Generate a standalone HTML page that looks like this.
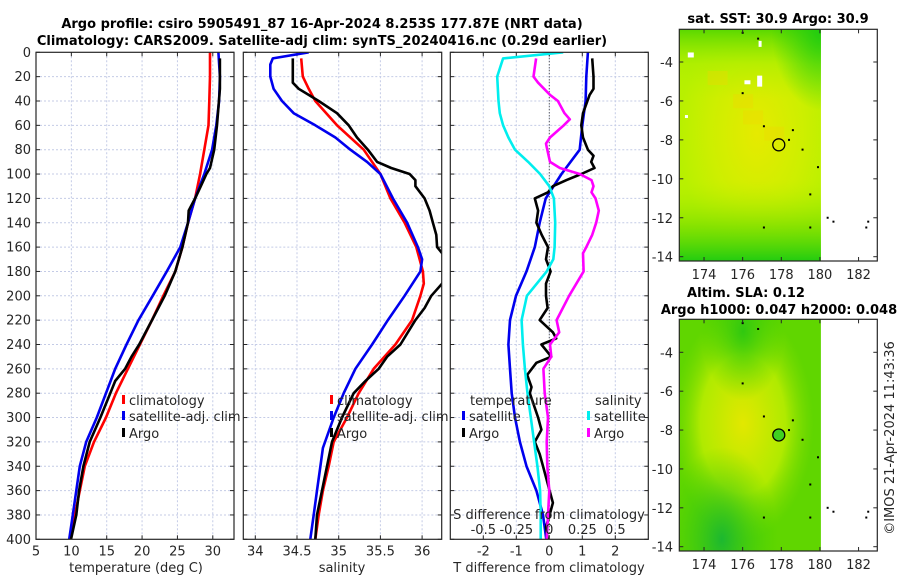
<!DOCTYPE html>
<html><head><meta charset="utf-8"><style>
html,body{margin:0;padding:0;background:#fff;}
svg{display:block;font-family:"DejaVu Sans","Liberation Sans",sans-serif;}
.t{font-size:13px;fill:#262626;}
.b{font-size:13px;font-weight:bold;fill:#000;}
</style></head><body>
<svg id="fig" width="900" height="580" viewBox="0 0 900 580" xmlns="http://www.w3.org/2000/svg">
<defs>
<radialGradient id="sstY" cx="0.55" cy="0.45" r="0.55"><stop offset="0" stop-color="#e6ea00"/><stop offset="0.6" stop-color="#cdef00"/><stop offset="1" stop-color="#cdef00" stop-opacity="0"/></radialGradient>
<linearGradient id="sstTop" x1="0" y1="0" x2="0" y2="1"><stop offset="0" stop-color="#5ad800"/><stop offset="0.15" stop-color="#a8ee00" stop-opacity="0.6"/><stop offset="0.3" stop-color="#b8f000" stop-opacity="0"/></linearGradient>
<linearGradient id="sstBot" x1="0" y1="1" x2="0" y2="0"><stop offset="0" stop-color="#22cc10"/><stop offset="0.15" stop-color="#70dd00" stop-opacity="0.7"/><stop offset="0.35" stop-color="#b8f000" stop-opacity="0"/></linearGradient>
<radialGradient id="sstTR" cx="1" cy="0" r="0.35"><stop offset="0" stop-color="#20cc10"/><stop offset="1" stop-color="#20cc10" stop-opacity="0"/></radialGradient>
<radialGradient id="slaY" cx="0.45" cy="0.45" r="0.5"><stop offset="0" stop-color="#e2e800"/><stop offset="0.6" stop-color="#b0ea00"/><stop offset="1" stop-color="#80dd00" stop-opacity="0"/></radialGradient>
<radialGradient id="slaG" cx="0.3" cy="0.95" r="0.4"><stop offset="0" stop-color="#1cb830"/><stop offset="1" stop-color="#40d000" stop-opacity="0"/></radialGradient>
<radialGradient id="slaG2" cx="0.45" cy="0.05" r="0.3"><stop offset="0" stop-color="#30c810"/><stop offset="1" stop-color="#40d000" stop-opacity="0"/></radialGradient>
</defs>
<g id="root"></g>
</svg>
<script>
// ---------- data ----------
const tDepth = [0,20,40,60,80,100,120,140,160,180,200,220,240,260,280,300,320,340,360,380,400];
const tClim  = [29.6,29.6,29.5,29.4,28.8,28.2,27.5,26.5,25.7,24.7,23.0,21.4,19.7,18.0,16.3,14.9,13.2,11.9,11.2,10.5,9.9];
const tSat   = [30.8,31.0,30.9,30.5,29.9,28.8,27.5,26.5,25.4,23.5,21.5,19.5,17.8,16.2,14.9,13.6,12.1,11.2,10.7,10.2,9.7];
const argoDepth = [5,30,60,80,95,100,110,120,130,140,160,180,200,220,240,250,260,270,280,300,320,340,360,380,400];
const tArgo  = [31.0,31.0,30.6,30.2,29.6,29.1,28.3,27.5,26.6,26.5,25.7,24.7,23.2,21.4,19.6,18.5,17.6,16.2,15.5,14.1,12.6,11.7,11.1,10.7,9.95];

const sClimDepth = [5,20,30,40,60,80,100,120,140,160,180,190,200,220,240,260,280,300,320,340,360,380,400];
const sClim = [34.55,34.57,34.64,34.72,34.98,35.30,35.50,35.62,35.79,35.93,36.01,36.02,35.98,35.88,35.68,35.42,35.24,35.10,34.94,34.88,34.81,34.76,34.72];
const sSatDepth = [0,5,10,20,30,40,50,60,70,80,90,100,120,140,160,170,180,200,220,240,260,280,300,325,340,360,380,400];
const sSat = [34.64,34.21,34.18,34.18,34.22,34.32,34.46,34.72,34.96,35.14,35.34,35.50,35.65,35.82,35.95,36.00,35.98,35.79,35.59,35.40,35.20,35.06,34.94,34.81,34.78,34.74,34.70,34.66];
const sArgoDepth = [5,25,30,35,40,50,60,70,80,90,95,100,105,110,120,130,140,150,160,165,172,180,190,200,210,220,240,250,260,270,280,300,320,340,360,380,400];
const sArgo = [34.45,34.45,34.52,34.64,34.76,34.98,35.12,35.22,35.35,35.46,35.63,35.85,35.92,35.92,36.03,36.09,36.13,36.17,36.18,36.24,36.35,36.40,36.24,36.11,36.03,35.92,35.74,35.58,35.48,35.32,35.18,35.04,34.92,34.86,34.80,34.74,34.72];

const dSatTDepth = [0,20,40,60,80,100,120,140,160,180,200,220,240,260,280,300,320,340,360,380,400];
const dSatT = [1.17,1.12,1.10,1.0,0.92,0.37,-0.11,-0.29,-0.44,-0.69,-1.01,-1.19,-1.24,-1.19,-1.14,-1.04,-0.89,-0.69,-0.39,-0.19,-0.09];
const dArgoTDepth = [5,20,30,35,50,60,70,80,85,90,95,100,105,110,115,120,130,140,150,160,170,180,190,200,210,220,230,235,240,250,255,265,275,280,300,310,320,330,340,360,370,380,390,400];
const dArgoT = [1.30,1.34,1.34,1.22,1.02,0.97,1.02,1.17,1.34,1.27,1.37,0.97,0.52,0.11,-0.04,-0.44,-0.34,-0.39,-0.23,-0.04,-0.1,0.04,-0.1,-0.1,-0.05,-0.29,0.11,0.21,-0.24,0.06,-0.39,-0.67,-0.54,-0.59,-0.34,-0.24,-0.44,-0.29,-0.19,0.01,0.11,0.01,-0.1,-0.05];
const dSatSDepth = [0,5,10,20,40,50,60,70,80,90,100,110,120,140,160,170,180,200,220,240,260,280,300,320,340,360,380,400];
const dSatS = [0.105,-0.35,-0.365,-0.395,-0.385,-0.375,-0.35,-0.31,-0.26,-0.16,-0.07,0.0,0.035,0.045,0.04,0.03,-0.02,-0.17,-0.21,-0.20,-0.185,-0.165,-0.14,-0.115,-0.09,-0.07,-0.065,-0.065];
const dArgoSDepth = [5,20,25,35,40,50,55,60,70,75,80,90,95,100,105,110,115,120,130,140,150,160,165,180,200,220,230,240,250,260,280,300,320,340,360,380,400];
const dArgoS = [-0.10,-0.12,-0.085,0.005,0.065,0.115,0.155,0.11,0.005,-0.025,-0.015,0.005,0.08,0.23,0.32,0.335,0.32,0.35,0.375,0.355,0.325,0.28,0.255,0.26,0.15,0.055,0.075,0.005,0.015,-0.045,-0.035,-0.01,-0.02,-0.015,0.0,-0.01,-0.02];

const depthTicks = [0,20,40,60,80,100,120,140,160,180,200,220,240,260,280,300,320,340,360,380,400];
const tTicks = [5,10,15,20,25,30];
const sTicks = [34,34.5,35,35.5,36];
const dTicks = [-2,-1,0,1,2];
const sDiffTicks = [-0.5,-0.25,0,0.25,0.5];
const lonTicks = [174,176,178,180,182];
const latTicks = [-4,-6,-8,-10,-12,-14];
const argoLon = 177.87, argoLat = -8.253;

// ---------- helpers ----------
const NS = "http://www.w3.org/2000/svg";
const root = document.getElementById('root');
function mk(tag, attrs, parent, text){
  const e = document.createElementNS(NS, tag);
  for (const k in attrs) e.setAttribute(k, attrs[k]);
  if (text !== undefined) e.textContent = text;
  (parent||root).appendChild(e);
  return e;
}
const Y0 = 52.3, Y1 = 539.3;
const yD = d => Y0 + d/400*(Y1-Y0);
function lin(d0,d1,r0,r1){ return v => r0 + (v-d0)/(d1-d0)*(r1-r0); }

function panel(name, x0, x1, xs, xTicks, xTickFmt, showY){
  const g = mk('g', {});
  
  
  xTicks.forEach(v => { const x = xs(v); if (x > x0+1 && x < x1-1) mk('line',{x1:x,x2:x,y1:Y0,y2:Y1,stroke:'#c4cbe6','stroke-width':1,'stroke-dasharray':'2,2'},g); });
  depthTicks.forEach(d => { const y = yD(d); if (d>0 && d<400) mk('line',{x1:x0,x2:x1,y1:y,y2:y,stroke:'#c4cbe6','stroke-width':1,'stroke-dasharray':'2,2'},g); });
  xTicks.forEach(v => { const x = xs(v); mk('line',{x1:x,x2:x,y1:Y1,y2:Y1-4,stroke:'#262626'},g); mk('line',{x1:x,x2:x,y1:Y0,y2:Y0+4,stroke:'#262626'},g);
    if (xTickFmt) { const t = mk('text',{x:x,y:Y1+16,'text-anchor':'middle',class:'t'},g,xTickFmt(v));   } });
  depthTicks.forEach(d => { const y = yD(d); mk('line',{x1:x0,x2:x0+4,y1:y,y2:y,stroke:'#262626'},g); mk('line',{x1:x1,x2:x1-4,y1:y,y2:y,stroke:'#262626'},g);
    if (showY) { const t = mk('text',{x:31,y:y+4.5,'text-anchor':'end',class:'t'},g,String(d));   } });
  return g;
}
function frame(g,x0,x1){ mk('rect',{x:x0,y:Y0,width:x1-x0,height:Y1-Y0,fill:'none',stroke:'#262626','stroke-width':1.2},g); }
function line(g, name, xs, depths, vals, color, clipId){
  const pts = depths.map((d,i)=> xs(vals[i]).toFixed(1)+','+yD(d).toFixed(1)).join(' ');
  const p = mk('polyline',{points:pts,fill:'none',stroke:color,'stroke-width':2.6,'stroke-linejoin':'round','clip-path':'url(#'+clipId+')'},g);
  
  
}
function clip(id,x0,x1){ const defs = document.querySelector('defs'); const c = mk('clipPath',{id:id},defs); mk('rect',{x:x0,y:Y0,width:x1-x0,height:Y1-Y0},c); }
function legendRow(g, name, mx, y, color, label){
  const r = mk('g',{},g);
  
  
  mk('rect',{x:mx,y:y-10,width:3,height:9,fill:color},r);
  mk('text',{x:mx+7,y:y,class:'t'},r,label);
}

const tt = mk('text',{x:322,y:28,'text-anchor':'middle',class:'b'},root,'Argo profile: csiro 5905491_87 16-Apr-2024 8.253S 177.87E (NRT data)');
 
const tt2 = mk('text',{x:322,y:45,'text-anchor':'middle',class:'b'},root,'Climatology: CARS2009. Satellite-adj clim: synTS_20240416.nc (0.29d earlier)');
 

{ const x0=36,x1=234, xs=lin(5,33,x0,x1);
  clip('c1',x0,x1);
  const g = panel('temperature-panel',x0,x1,xs,tTicks,v=>String(v),true);
  line(g,'temp-climatology-line',xs,tDepth,tClim,'#ff0000','c1');
  line(g,'temp-satellite-line',xs,tDepth,tSat,'#0000ee','c1');
  line(g,'temp-argo-line',xs,argoDepth,tArgo,'#000000','c1');
  frame(g,x0,x1);
  legendRow(g,'legend-climatology',122,405,'#ff0000','climatology');
  legendRow(g,'legend-satellite-adj',122,421,'#0000ee','satellite-adj. clim');
  legendRow(g,'legend-argo',122,438,'#000000','Argo');
  const xl = mk('text',{x:136,y:572,'text-anchor':'middle',class:'t'},g,'temperature (deg C)');
   
}
{ const x0=243.3,x1=441.7, xs=lin(34,36,255.3,422.1);
  clip('c2',x0,x1);
  const g = panel('salinity-panel',x0,x1,xs,sTicks,v=>String(v),false);
  line(g,'sal-climatology-line',xs,sClimDepth,sClim,'#ff0000','c2');
  line(g,'sal-satellite-line',xs,sSatDepth,sSat,'#0000ee','c2');
  line(g,'sal-argo-line',xs,sArgoDepth,sArgo,'#000000','c2');
  frame(g,x0,x1);
  legendRow(g,'legend-climatology',330,405,'#ff0000','climatology');
  legendRow(g,'legend-satellite-adj',330,421,'#0000ee','satellite-adj. clim');
  legendRow(g,'legend-argo',330,438,'#000000','Argo');
  const xl = mk('text',{x:342,y:572,'text-anchor':'middle',class:'t'},g,'salinity');
   
}
{ const x0=450.3,x1=648.3, xs=lin(-3,3,x0,x1), ss=lin(-1.5,1.5,x0-99*0,x1).call ? null : null;
  const sx = lin(-0.75,0.75,x0,x1);
  clip('c3',x0,x1);
  const g = panel('difference-panel',x0,x1,xs,dTicks,v=>String(v),false);
  mk('line',{x1:xs(0),x2:xs(0),y1:Y0,y2:Y1,stroke:'#333','stroke-width':1,'stroke-dasharray':'1,2'},g);
  line(g,'tdiff-satellite-line',xs,dSatTDepth,dSatT,'#0000ee','c3');
  line(g,'tdiff-argo-line',xs,dArgoTDepth,dArgoT,'#000000','c3');
  line(g,'sdiff-satellite-line',sx,dSatSDepth,dSatS,'#00eeee','c3');
  line(g,'sdiff-argo-line',sx,dArgoSDepth,dArgoS,'#ff00ff','c3');
  frame(g,x0,x1);
  mk('text',{x:470,y:405,class:'t'},g,'temperature');
  mk('text',{x:595,y:405,class:'t'},g,'salinity');
  legendRow(g,'legend-t-satellite',462,421,'#0000ee','satellite');
  legendRow(g,'legend-t-argo',462,438,'#000000','Argo');
  legendRow(g,'legend-s-satellite',587,421,'#00eeee','satellite');
  legendRow(g,'legend-s-argo',587,438,'#ff00ff','Argo');
  const st = mk('text',{x:549,y:519,'text-anchor':'middle',class:'t'},g,'S difference from climatology');
   
  sDiffTicks.forEach(v => { const t = mk('text',{x:sx(v),y:534,'text-anchor':'middle',class:'t'},g,String(v));   });
  const xl = mk('text',{x:549,y:572,'text-anchor':'middle',class:'t'},g,'T difference from climatology');
   
}

const coast = [[176.0,-2.5],[176.8,-2.8],[176.0,-5.6],[177.1,-7.3],[178.6,-7.5],[178.4,-8.0],[179.1,-8.5],[179.9,-9.4],[179.5,-10.8],[177.1,-12.5],[179.5,-12.5],[180.4,-12.0],[180.7,-12.2],[182.5,-12.2],[182.4,-12.5]];
function mapPanel(name, top, bottom, yTopVal, yBotVal, kind){
  const x0=679.3,x1=877.3;
  const xs = lin(172.72,182.97,x0,x1);
  const ys = lin(-4,-14,yTopVal,yBotVal);
  const g = mk('g',{});
  
  
  const w = xs(180.05)-x0, h = bottom-top;
  if (kind==='sst'){
    mk('rect',{x:x0,y:top,width:w,height:h,fill:'#b8f000'},g);
    mk('rect',{x:x0,y:top,width:w,height:h,fill:'url(#sstY)'},g);
    mk('rect',{x:x0,y:top,width:w,height:h,fill:'url(#sstTop)'},g);
    mk('rect',{x:x0,y:top,width:w,height:h,fill:'url(#sstBot)'},g);
    mk('rect',{x:x0,y:top,width:w,height:h,fill:'url(#sstTR)'},g);
    [[0.38,0.28],[0.45,0.35],[0.2,0.18],[0.6,0.42]].forEach(p=>mk('rect',{x:x0+w*p[0],y:top+h*p[1],width:20,height:14,fill:'#f0d800',opacity:0.35},g));
    [[0.55,0.2,5,11],[0.46,0.22,6,4],[0.06,0.1,6,5],[0.56,0.05,3,6],[0.04,0.37,3,3]].forEach(p=>mk('rect',{x:x0+w*p[0],y:top+h*p[1],width:p[2],height:p[3],fill:'#fff'},g));
  } else {
    mk('rect',{x:x0,y:top,width:w,height:h,fill:'#60d600'},g);
    mk('rect',{x:x0,y:top,width:w,height:h,fill:'url(#slaY)'},g);
    mk('rect',{x:x0,y:top,width:w,height:h,fill:'url(#slaG)'},g);
    mk('rect',{x:x0,y:top,width:w,height:h,fill:'url(#slaG2)'},g);
  }
  coast.forEach(c => mk('rect',{x:xs(c[0])-1,y:ys(c[1])-1,width:2,height:2,fill:'#000'},g));
  const m = mk('circle',{cx:xs(argoLon),cy:ys(argoLat),r:6,fill:kind==='sst'?'none':'#40d020',stroke:'#000','stroke-width':1.3},g);
   
  mk('rect',{x:x0,y:top,width:x1-x0,height:h,fill:'none',stroke:'#262626','stroke-width':1.2},g);
  lonTicks.forEach(v=>{ const x=xs(v); mk('line',{x1:x,x2:x,y1:bottom,y2:bottom-4,stroke:'#262626'},g); mk('line',{x1:x,x2:x,y1:top,y2:top+4,stroke:'#262626'},g);
    const t=mk('text',{x:x,y:bottom+18,'text-anchor':'middle',class:'t'},g,String(v));   });
  latTicks.forEach(v=>{ const y=ys(v); mk('line',{x1:x0,x2:x0+4,y1:y,y2:y,stroke:'#262626'},g); mk('line',{x1:x1,x2:x1-4,y1:y,y2:y,stroke:'#262626'},g);
    const t=mk('text',{x:673,y:y+5,'text-anchor':'end',class:'t'},g,String(v));   });
  return g;
}
mapPanel('sst-map',29.3,261,62,256.7,'sst');
mapPanel('sla-map',319.3,551,352.3,546.7,'sla');
const m1 = mk('text',{x:778,y:23,'text-anchor':'middle',class:'b'},root,'sat. SST: 30.9 Argo: 30.9');
 
const m2 = mk('text',{x:746,y:297,'text-anchor':'middle',class:'b'},root,'Altim. SLA: 0.12');
 
const m3 = mk('text',{x:779,y:314,'text-anchor':'middle',class:'b'},root,'Argo h1000: 0.047 h2000: 0.048');
 
const cr = mk('text',{x:0,y:0,'text-anchor':'middle',class:'t',transform:'translate(894,438) rotate(-90)'},root,'©IMOS 21-Apr-2024 11:43:36');
 
</script>
</body></html>
